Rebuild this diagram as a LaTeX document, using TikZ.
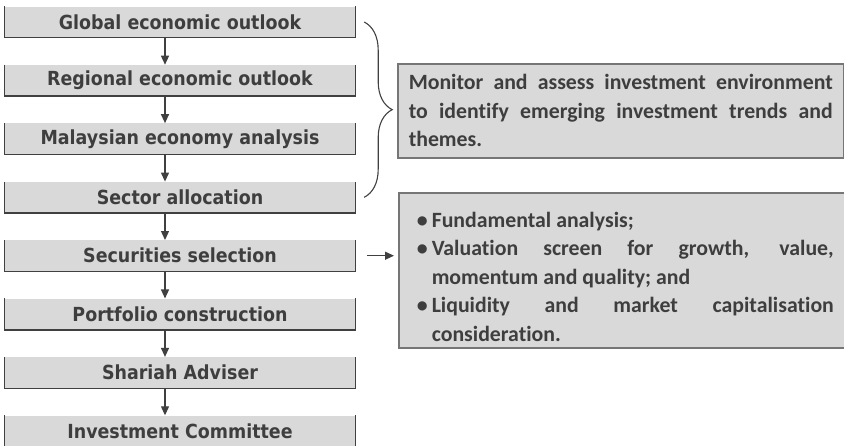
\documentclass[tikz,border=0pt]{standalone}
\usepackage{fontspec}
\usepackage{tikz}
\usetikzlibrary{arrows.meta,calc,positioning,decorations.pathreplacing}
\newfontfamily\stagefont[FakeStretch=0.9]{DejaVu Sans}
\newfontfamily\notefont[Ligatures=NoCommon]{Carlito}
\definecolor{boxgray}{RGB}{217,217,217}
\definecolor{edgedark}{RGB}{64,64,64}
\definecolor{edgegray}{RGB}{118,118,118}
\definecolor{txtdark}{RGB}{62,62,62}
\newcommand{\noteitem}{\par\hangindent=22pt\hangafter=1\noindent\makebox[22pt][l]{\hspace{7pt}\textbullet}}
\tikzstyle{stage}=[fill=boxgray,minimum width=350pt,minimum height=31pt,inner sep=0pt,text=txtdark,font=\stagefont\bfseries\fontsize{19.4}{22}\selectfont]
\tikzstyle{stageedge}=[edgedark,line width=1.3pt]
\tikzstyle{flow}=[-{Triangle[width=8pt,length=9pt]},edgedark,line width=1.2pt]
\tikzstyle{note}=[draw=edgegray,fill=boxgray,line width=1.5pt,text=txtdark,align=justify,anchor=north west,text width=424pt,inner xsep=11pt,inner ysep=0pt,font=\notefont\bfseries\fontsize{21.8}{28.5}\selectfont]
\tikzstyle{bracket}=[decorate,decoration={brace,amplitude=28pt},edgedark,line width=1.1pt]

\begin{document}
\begin{tikzpicture}[x=1pt,y=-1pt]
            \useasboundingbox (0,0) rectangle (844,445);
            \def\gap{58.43}
            % process stages
            \foreach \txt [count=\i] in {Global economic outlook,Regional economic outlook,Malaysian economy analysis,Sector allocation,Securities selection,Portfolio construction,Shariah Adviser,Investment Committee}
                \node[stage] (s\i) at (180,{22+(\i-1)*\gap}) {\txt};
            \foreach \i in {1,...,8}
                \draw[stageedge] (s\i.north west) -- (s\i.south west) -- (s\i.south east) -- (s\i.north east);
            \foreach \i [remember=\i as \prev (initially 1)] in {2,...,8}
                \draw[flow] ([xshift=-15pt]s\prev.south) -- ([xshift=-15pt]s\i.north);
            % notes on the right
            \node[note,minimum height=94pt] (env) at (397,63) {Monitor and assess investment environment\linebreak to identify emerging investment trends and\linebreak themes.\par};
            \node[note,minimum height=155pt] (crit) at (398,192) {\noteitem Fundamental analysis;\noteitem Valuation screen for growth, value,\linebreak momentum and quality; and\noteitem Liquidity and market capitalisation\linebreak consideration.\par};
            \draw[bracket] ([xshift=9pt]s1.east) -- ([xshift=9pt]s4.east);
            \draw[flow] ([xshift=12pt]s5.east) -- ($(s5.east -| crit.west)+(-4,0)$);
        \end{tikzpicture}
\end{document}
